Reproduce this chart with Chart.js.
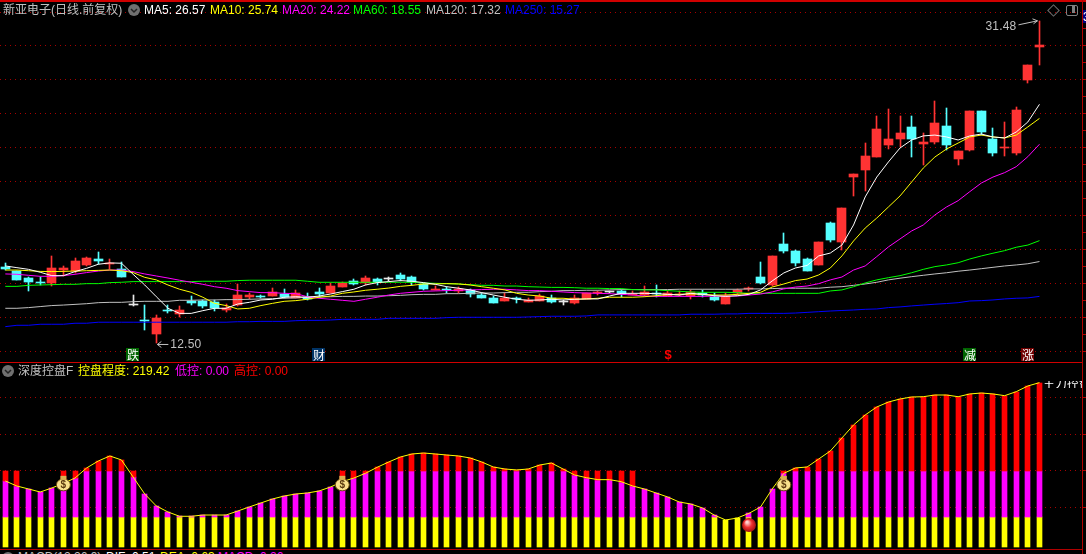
<!DOCTYPE html>
<html>
<head>
<meta charset="utf-8">
<script src="https://cdn.jsdelivr.net/npm/chart.js@4"></script>
<style>
  html, body { margin: 0; padding: 0; background: #000; overflow: hidden; }
  #page { position: relative; width: 1086px; height: 554px; background: #000; overflow: hidden;
    font: 12px "Liberation Sans", "Noto Sans CJK SC", sans-serif; }
  canvas { position: absolute; left: 0; display: block; }
  #mainChart { top: 0; }
  #subChart { top: 363px; }
  .t { position: absolute; white-space: nowrap; line-height: 14px; }
  .rule { position: absolute; background: #b00000; }
</style>
</head>
<body>
<div id="page">
  <canvas id="mainChart" width="1086" height="362"></canvas>
  <canvas id="subChart" width="1086" height="186"></canvas>

  <div class="rule" style="left:0;top:0;width:1086px;height:2px;background:#d00000"></div>
  <div class="rule" style="left:0;top:362px;width:1082px;height:1px;background:#d00000"></div>
  <div class="rule" style="left:0;top:549px;width:1082px;height:1px"></div>
  <div class="rule" style="left:1082px;top:0;width:1px;height:554px"></div>

  <span class="t" style="left:3px;top:3px;color:#c0c0c0">新亚电子(日线.前复权)</span>
  <svg style="position:absolute;left:128px;top:4px" width="12" height="12"><circle cx="6" cy="6" r="6" fill="#707070"/><path d="M3 5l3 3 3-3" stroke="#222" stroke-width="1.5" fill="none"/></svg>
  <span class="t" style="left:144px;top:3px;color:#fff">MA5: 26.57</span>
  <span class="t" style="left:210px;top:3px;color:#ff0">MA10: 25.74</span>
  <span class="t" style="left:282px;top:3px;color:#f0f">MA20: 24.22</span>
  <span class="t" style="left:353px;top:3px;color:#0f0">MA60: 18.55</span>
  <span class="t" style="left:426px;top:3px;color:#c0c0c0">MA120: 17.32</span>
  <span class="t" style="left:505px;top:3px;color:#00f">MA250: 15.27</span>

  <div style="position:absolute;left:1049px;top:6px;width:7px;height:7px;border:1px solid #707070;transform:rotate(45deg)"></div>
  <div style="position:absolute;left:1066px;top:5px;width:10px;height:9px;border:1px solid #808080;border-radius:2px"></div>
  <div style="position:absolute;left:1072px;top:6px;width:3px;height:7px;background:#808080"></div>
  <div style="position:absolute;left:1083px;top:10px;width:3px;height:13px;background:#000080;overflow:hidden"><span class="t" style="left:0;top:0;color:#fff">31.48</span></div>

  <svg style="position:absolute;left:2px;top:365px" width="12" height="12"><circle cx="6" cy="6" r="6" fill="#707070"/><path d="M3 5l3 3 3-3" stroke="#222" stroke-width="1.5" fill="none"/></svg>
  <span class="t" style="left:18px;top:364px;color:#c0c0c0">深度控盘F</span>
  <span class="t" style="left:78px;top:364px;color:#ff0">控盘程度: 219.42</span>
  <span class="t" style="left:175px;top:364px;color:#f0f">低控: 0.00</span>
  <span class="t" style="left:234px;top:364px;color:#f00">高控: 0.00</span>

  <div style="position:absolute;left:1043px;top:381px;width:39px;height:7px;overflow:hidden"><span class="t" style="left:0;top:-4px;color:#fff">主力控盘</span></div>

  <div style="position:absolute;left:0;top:552px;width:1082px;height:2px;overflow:hidden">
    <svg style="position:absolute;left:2px;top:0" width="12" height="12"><circle cx="6" cy="6" r="6" fill="#707070"/></svg>
    <span class="t" style="left:18px;top:-2px;color:#c0c0c0">MACD(12,26,9)</span>
    <span class="t" style="left:106px;top:-2px;color:#fff">DIF: 0.51</span>
    <span class="t" style="left:160px;top:-2px;color:#ff0">DEA: 0.63</span>
    <span class="t" style="left:218px;top:-2px;color:#f0f">MACD: 0.26</span>
  </div>
</div>

<script>
// Daily bars, price panel
const opens = [16.97,16.78,16.37,16.13,16.04,16.80,16.78,17.12,17.47,17.15,16.87,14.76,13.83,13.06,14.44,14.25,15.02,15.00,14.94,14.47,14.76,15.24,15.29,15.29,15.43,15.20,15.26,15.53,15.45,15.82,16.18,16.04,16.29,16.31,16.53,16.41,15.98,15.65,15.71,15.61,15.65,15.35,15.18,15.00,15.14,14.94,15.00,15.20,14.92,14.88,15.12,15.47,15.51,15.61,15.37,15.35,15.45,15.29,15.34,15.29,15.49,15.26,14.82,15.45,15.69,16.41,15.94,18.35,17.94,17.47,17.12,19.59,18.47,22.29,22.71,23.47,24.18,24.53,25.24,24.24,24.35,25.29,23.35,23.88,26.18,24.53,23.97,23.71,28.00,29.97];
const highs = [17.24,16.78,16.41,16.39,17.65,17.06,17.51,17.57,17.88,17.49,17.29,15.35,14.76,14.18,14.76,14.71,15.29,15.06,15.06,14.82,15.98,15.49,15.35,15.76,15.69,15.63,15.47,15.75,16.04,16.13,16.28,16.47,16.35,16.41,16.65,16.47,16.04,15.88,15.82,15.84,15.69,15.49,15.29,15.47,15.22,15.18,15.39,15.34,15.06,15.34,15.49,15.61,15.59,15.65,15.57,15.88,15.94,15.57,15.57,15.67,15.65,15.49,15.45,15.73,15.82,17.29,17.65,19.00,18.00,17.53,18.47,19.65,20.47,22.47,24.29,25.88,26.29,25.88,25.88,24.88,26.76,26.35,23.82,26.18,26.18,25.18,25.53,26.41,28.88,31.48];
const lows = [16.85,16.24,15.59,15.92,15.90,16.47,16.63,17.06,17.16,16.87,16.43,14.72,13.30,12.50,14.27,14.08,14.78,14.59,14.43,14.35,14.71,15.12,15.18,15.29,15.16,15.18,15.06,15.22,15.45,15.82,15.96,15.92,15.96,16.16,16.16,15.94,15.65,15.65,15.47,15.49,15.24,15.18,14.88,15.00,14.88,14.94,15.00,14.88,14.76,14.82,15.12,15.37,15.45,15.22,15.34,15.29,15.26,15.29,15.29,15.12,15.26,15.00,14.82,15.35,15.61,16.00,15.88,17.82,17.06,16.76,17.12,18.47,18.00,21.18,21.47,23.47,23.94,24.06,23.47,23.00,24.24,23.88,23.00,23.82,24.76,23.53,23.53,23.59,27.82,28.88];
const closes = [16.91,16.24,16.13,16.07,16.94,16.94,17.35,17.53,17.35,17.21,16.43,14.76,13.80,14.00,14.41,14.47,14.90,14.71,14.57,14.61,15.35,15.35,15.26,15.53,15.22,15.47,15.14,15.41,15.88,16.06,16.02,16.35,16.12,16.31,16.29,16.10,15.71,15.69,15.65,15.73,15.39,15.18,14.88,15.18,15.10,15.04,15.31,14.94,14.92,15.16,15.49,15.50,15.51,15.41,15.40,15.53,15.42,15.45,15.37,15.53,15.34,15.08,15.28,15.65,15.72,16.06,17.65,17.94,17.24,16.76,18.47,18.59,20.47,22.47,23.53,25.12,24.53,24.88,24.53,24.35,25.47,24.18,23.82,26.18,24.94,23.71,24.03,26.24,28.88,30.03];

const ma5 = [17.06,16.96,16.86,16.69,16.49,16.49,16.73,16.92,17.16,17.24,17.22,16.57,15.94,15.25,14.57,14.27,14.27,14.43,14.57,14.57,14.82,14.92,15.06,15.10,15.22,15.25,15.22,15.29,15.41,15.55,15.69,15.94,16.08,16.14,16.20,16.16,16.08,15.98,15.84,15.75,15.65,15.49,15.35,15.22,15.10,15.04,15.06,15.10,15.06,15.10,15.12,15.12,15.29,15.45,15.45,15.45,15.43,15.39,15.35,15.45,15.39,15.31,15.27,15.31,15.39,15.65,16.18,16.65,16.94,17.09,17.65,17.82,18.29,19.47,21.12,22.29,23.18,24.00,24.47,24.71,24.76,24.65,24.47,24.71,24.82,24.65,24.59,24.94,25.53,26.57];
const ma10 = [16.82,16.82,16.78,16.74,16.73,16.74,16.76,16.78,16.80,16.82,16.78,16.67,16.39,16.24,15.94,15.69,15.51,15.22,14.86,14.73,14.53,14.57,14.73,14.86,14.98,15.02,15.10,15.22,15.29,15.45,15.53,15.63,15.69,15.76,15.86,15.92,16.00,16.00,16.02,16.00,15.94,15.84,15.75,15.65,15.45,15.35,15.29,15.16,15.16,15.10,15.12,15.16,15.22,15.22,15.22,15.25,15.31,15.37,15.39,15.41,15.39,15.35,15.35,15.39,15.45,15.51,15.82,16.00,16.20,16.29,16.53,16.94,17.65,18.53,19.29,19.88,20.53,21.18,22.00,22.82,23.47,23.94,24.29,24.65,24.76,24.65,24.59,24.76,25.24,25.74];
const ma20 = [16.59,16.57,16.51,16.45,16.45,16.49,16.57,16.67,16.76,16.82,16.82,16.73,16.59,16.47,16.35,16.22,16.10,15.98,15.84,15.75,15.61,15.55,15.49,15.49,15.45,15.43,15.25,15.16,15.10,15.04,14.98,15.10,15.22,15.35,15.45,15.51,15.57,15.59,15.61,15.63,15.65,15.67,15.69,15.69,15.65,15.61,15.61,15.57,15.53,15.49,15.47,15.45,15.43,15.39,15.35,15.29,15.27,15.27,15.27,15.27,15.27,15.29,15.29,15.29,15.35,15.41,15.53,15.71,15.82,15.88,16.02,16.24,16.41,16.82,17.06,17.61,18.18,18.65,19.12,19.47,20.06,20.53,20.90,21.43,21.94,22.29,22.55,22.90,23.49,24.22];
const ma60 = [15.86,15.86,15.92,15.94,15.96,15.98,15.98,16.02,16.02,16.08,16.10,16.14,16.14,16.14,16.14,16.14,16.14,16.16,16.16,16.16,16.20,16.22,16.22,16.22,16.22,16.22,16.16,16.10,16.10,16.10,16.10,16.10,16.10,16.10,16.10,16.10,16.06,16.04,16.02,16.00,15.96,15.92,15.92,15.88,15.88,15.84,15.82,15.80,15.80,15.78,15.75,15.75,15.73,15.73,15.67,15.65,15.65,15.61,15.57,15.53,15.51,15.51,15.51,15.49,15.45,15.45,15.45,15.45,15.45,15.45,15.45,15.59,15.65,15.84,16.06,16.24,16.37,16.49,16.66,16.86,17.02,17.12,17.25,17.47,17.65,17.81,17.96,18.16,18.29,18.55];
const ma120 = [14.57,14.57,14.61,14.67,14.73,14.76,14.80,14.84,14.90,14.92,14.92,14.96,14.98,14.98,14.98,15.04,15.04,15.06,15.06,15.08,15.08,15.10,15.12,15.14,15.16,15.18,15.22,15.24,15.25,15.27,15.27,15.29,15.29,15.31,15.33,15.37,15.39,15.39,15.43,15.43,15.45,15.47,15.47,15.49,15.51,15.51,15.55,15.57,15.61,15.61,15.63,15.63,15.65,15.67,15.67,15.67,15.67,15.67,15.69,15.69,15.69,15.69,15.69,15.69,15.71,15.71,15.73,15.75,15.75,15.75,15.75,15.81,15.84,15.92,16.00,16.10,16.24,16.34,16.43,16.51,16.59,16.66,16.75,16.82,16.90,16.98,17.06,17.12,17.19,17.32];
const ma250 = [13.49,13.57,13.57,13.63,13.63,13.63,13.69,13.69,13.75,13.75,13.75,13.75,13.75,13.75,13.75,13.75,13.75,13.75,13.75,13.75,13.78,13.78,13.80,13.80,13.80,13.84,13.86,13.86,13.88,13.92,13.92,13.92,13.92,13.98,13.98,13.98,13.98,13.98,14.02,14.04,14.04,14.04,14.04,14.04,14.04,14.06,14.08,14.10,14.10,14.10,14.12,14.18,14.18,14.18,14.18,14.18,14.18,14.18,14.18,14.22,14.22,14.22,14.24,14.24,14.27,14.27,14.27,14.27,14.29,14.33,14.37,14.41,14.44,14.47,14.51,14.53,14.61,14.65,14.71,14.76,14.81,14.85,14.90,15.00,15.02,15.06,15.12,15.16,15.18,15.27];

// Lower panel: the control line, and the bars that also carry a red part when the line is under 100
const control = [86.5,79.7,75.7,71.6,77.0,83.3,90.5,104.1,113.5,120.3,114.9,91.9,68.9,52.7,44.6,38.8,38.8,40.5,40.5,40.5,45.9,51.4,56.8,62.2,66.2,68.9,70.3,73.0,78.4,85.6,90.5,96.9,105.0,112.2,118.9,123.0,124.3,123.0,121.6,120.3,117.6,112.2,105.4,102.7,101.4,102.7,108.1,110.8,102.7,94.6,91.0,88.3,88.3,85.6,79.7,75.7,70.3,64.9,58.1,55.4,50.0,40.5,33.8,36.5,42.8,51.4,75.7,96.9,104.1,105.4,116.2,127.0,144.6,162.2,175.7,186.5,193.2,197.3,200.0,200.4,202.7,202.7,200.4,204.1,205.4,204.1,201.8,207.2,214.9,219.42];
const redUnder100 = [0,1,5,6,11,29,30,31,49,50,51,52,53,54,67];
const lowBandTop = 37.84;
const midBandTop = 100;
const barFloor = -2.7;

const priceTicks = [12,13,14,15,16,17,18,19,20,21,22,23,24,25,26,27,28,29,30,31,32];
const controlTicks = [50,100,150,200];

// Markers under the candles and icons on the lower panel
const markerBars = [11,27,57,83,88];
const markerText = ["跌","财","$","减","涨"];
const markerFill = ["#006400","#003366",null,"#006400","#700000"];
const bagBars = [5,29,67];
const bagLevel = 84;
const ballBar = 64;
const ballLevel = 27;

const barIndex = closes.map((c, i) => i);
const UP = "#ff3333", DOWN = "#55ffff", FLAT = "#e8e8e8", GRID = "#a80000";

function candleColor(i) {
  if (closes[i] > opens[i]) return UP;
  if (closes[i] < opens[i]) return DOWN;
  return FLAT;
}

function maLine(values, color, order) {
  return {
    type: "line",
    data: values.map((v, i) => ({ x: i, y: v })),
    borderColor: color,
    borderWidth: 1,
    pointRadius: 0,
    tension: 0,
    order: order,
  };
}

// keeps bars on whole pixels so they stay as crisp as the reference
const snapBars = {
  id: "snapBars",
  afterDatasetsUpdate(chart) {
    chart.data.datasets.forEach((ds, k) => {
      if (ds.type !== "bar") return;
      chart.getDatasetMeta(k).data.forEach((el) => {
        el.x = Math.floor(el.x) + 0.5;
        el.y = Math.round(el.y);
        el.base = Math.round(el.base);
        if (el.y === el.base) el.base += 1;
      });
    });
  },
};

const priceNotes = {
  id: "priceNotes",
  afterDatasetsDraw(chart) {
    const { ctx, scales } = chart;
    const x = scales.x, y = scales.y;
    ctx.save();
    ctx.font = '12px "Liberation Sans"';
    ctx.letterSpacing = "0.2px";
    ctx.fillStyle = "#c0c0c0";
    ctx.strokeStyle = "#c0c0c0";
    ctx.lineWidth = 1;
    ctx.textBaseline = "middle";

    // highest price
    const top = Math.max(...highs);
    const tx = x.getPixelForValue(highs.indexOf(top)), ty = y.getPixelForValue(top);
    ctx.textAlign = "right";
    ctx.fillText(top.toFixed(2), tx - 23, ty + 6);
    ctx.beginPath();
    ctx.moveTo(tx - 21, ty + 4);
    ctx.lineTo(tx - 2, ty);
    ctx.lineTo(tx - 7, ty - 2);
    ctx.moveTo(tx - 2, ty);
    ctx.lineTo(tx - 6, ty + 3);
    ctx.stroke();

    // lowest price
    const bottom = Math.min(...lows);
    const bx = x.getPixelForValue(lows.indexOf(bottom)), by = y.getPixelForValue(bottom);
    ctx.textAlign = "left";
    ctx.fillText(bottom.toFixed(2), bx + 14, by + 1);
    ctx.beginPath();
    ctx.moveTo(bx + 12, by + 1);
    ctx.lineTo(bx + 1, by + 1);
    ctx.lineTo(bx + 5, by - 2);
    ctx.moveTo(bx + 1, by + 1);
    ctx.lineTo(bx + 5, by + 4);
    ctx.stroke();

    // event markers along the bottom
    ctx.letterSpacing = "0px";
    ctx.font = '12px "Noto Sans CJK SC"';
    ctx.textAlign = "center";
    markerBars.forEach((b, i) => {
      const mx = Math.round(x.getPixelForValue(b));
      if (markerFill[i]) {
        ctx.fillStyle = markerFill[i];
        ctx.fillRect(mx - 7, 348, 13, 13);
        ctx.fillStyle = "#fff";
      } else {
        ctx.fillStyle = "#f00";
        ctx.font = 'bold 13px "Liberation Sans"';
      }
      ctx.fillText(markerText[i], mx, 355);
      ctx.font = '12px "Noto Sans CJK SC"';
    });
    ctx.restore();
  },
};

const controlIcons = {
  id: "controlIcons",
  afterDatasetsDraw(chart) {
    const { ctx, scales } = chart;
    ctx.save();
    bagBars.forEach((b) => {
      const cx = scales.x.getPixelForValue(b), cy = scales.y.getPixelForValue(bagLevel);
      ctx.fillStyle = "#f8e08c";
      ctx.strokeStyle = "#6a4a10";
      ctx.beginPath();
      ctx.ellipse(cx, cy + 2, 7, 6, 0, 0, Math.PI * 2);
      ctx.fill();
      ctx.stroke();
      ctx.fillStyle = "#d8b050";
      ctx.fillRect(cx - 3, cy - 7, 6, 4);
      ctx.fillStyle = "#5a3a10";
      ctx.font = 'bold 10px "Liberation Sans"';
      ctx.textAlign = "center";
      ctx.textBaseline = "middle";
      ctx.fillText("$", cx, cy + 2);
    });
    const bx = scales.x.getPixelForValue(ballBar), by = scales.y.getPixelForValue(ballLevel);
    const g = ctx.createRadialGradient(bx - 2, by - 3, 1, bx, by, 7);
    g.addColorStop(0, "#ffd0d0");
    g.addColorStop(0.5, "#ee3030");
    g.addColorStop(1, "#a01010");
    ctx.fillStyle = g;
    ctx.beginPath();
    ctx.arc(bx, by, 7, 0, Math.PI * 2);
    ctx.fill();
    ctx.restore();
  },
};

const xAxis = { type: "linear", display: false, offset: false, min: -0.456, max: 92.66, grid: { display: false, offset: false } };

function yAxis(min, max, ticks, showGrid) {
  return {
    position: "right",
    min: min,
    max: max,
    afterBuildTicks(axis) {
      axis.ticks = ticks.map((v) => ({ value: v }));
    },
    ticks: { display: false },
    border: { display: false, dash: [1, 4] },
    grid: {
      tickLength: 4,
      tickColor: "#b00000",
      color: (c) => (showGrid(c.tick.value) ? GRID : "rgba(0,0,0,0)"),
    },
  };
}

const baseOptions = {
  responsive: false,
  animation: false,
  events: [],
  layout: { padding: 0 },
  plugins: { legend: { display: false }, tooltip: { enabled: false } },
};

new Chart(document.getElementById("mainChart"), {
  data: {
    datasets: [
      maLine(ma5, "#ffffff", 1),
      maLine(ma10, "#ffff00", 2),
      maLine(ma20, "#ff00ff", 3),
      maLine(ma60, "#00ff00", 4),
      maLine(ma120, "#c0c0c0", 5),
      maLine(ma250, "#0000ff", 6),
      {
        type: "bar",
        grouped: false,
        data: barIndex.map((i) => ({ x: i, y: [opens[i], closes[i]] })),
        backgroundColor: barIndex.map(candleColor),
        barThickness: 9,
        minBarLength: 1,
        order: 8,
      },
      {
        type: "bar",
        grouped: false,
        data: barIndex.map((i) => ({ x: i, y: [lows[i], highs[i]] })),
        backgroundColor: barIndex.map(candleColor),
        barThickness: 1,
        order: 9,
      },
    ],
  },
  options: {
    ...baseOptions,
    scales: {
      x: xAxis,
      y: yAxis(11.41, 32.706, priceTicks, (v) => v % 2 === 0),
    },
  },
  plugins: [snapBars, priceNotes],
});

new Chart(document.getElementById("subChart"), {
  data: {
    datasets: [
      {
        type: "line",
        data: control.map((v, i) => ({ x: i, y: v })),
        borderColor: "#ffff00",
        borderWidth: 1,
        pointRadius: 0,
        tension: 0,
        order: 1,
      },
      {
        type: "bar",
        grouped: false,
        data: control.map((v, i) => ({ x: i, y: v > midBandTop || redUnder100.includes(i) ? [midBandTop, v] : null })),
        backgroundColor: "#ff0000",
        barThickness: 5,
        order: 3,
      },
      {
        type: "bar",
        grouped: false,
        data: control.map((v, i) => ({ x: i, y: v > lowBandTop ? [lowBandTop, Math.min(v, midBandTop)] : null })),
        backgroundColor: "#ff00ff",
        barThickness: 5,
        order: 4,
      },
      {
        type: "bar",
        grouped: false,
        data: control.map((v, i) => ({ x: i, y: [barFloor, Math.min(v, lowBandTop)] })),
        backgroundColor: "#ffff00",
        barThickness: 5,
        order: 5,
      },
    ],
  },
  options: {
    ...baseOptions,
    scales: {
      x: xAxis,
      y: yAxis(-5.41, 245.95, controlTicks, () => true),
    },
  },
  plugins: [snapBars, controlIcons],
});
</script>
</body>
</html>
